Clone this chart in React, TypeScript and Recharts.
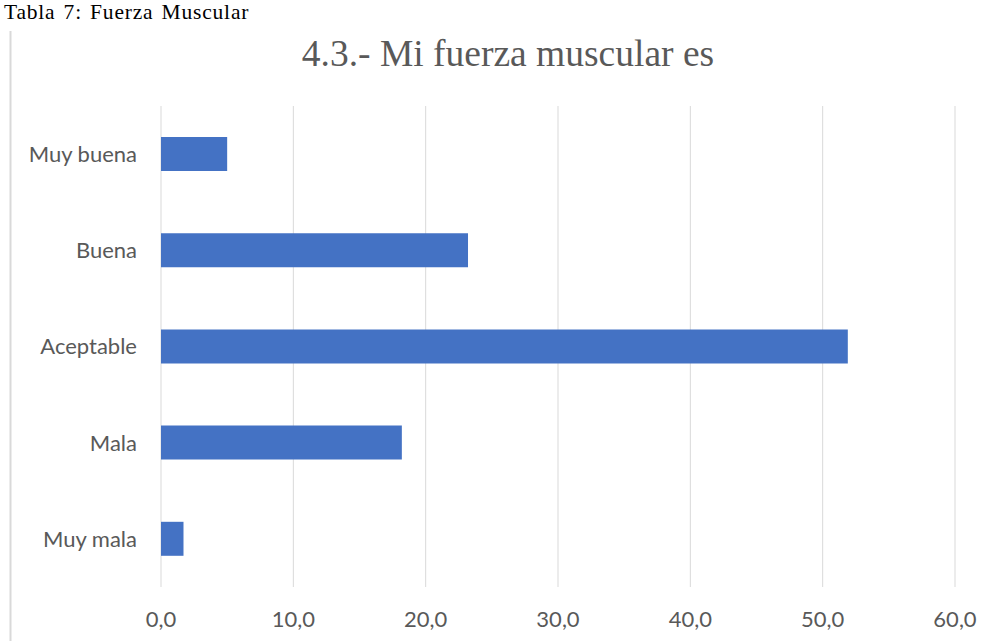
import React from "react";
import { BarChart, Bar, XAxis, YAxis, CartesianGrid } from "recharts";

const categories = ["Muy buena", "Buena", "Aceptable", "Mala", "Muy mala"];
const values = [5.0, 23.2, 51.9, 18.2, 1.7];
const xTicks = [0, 10, 20, 30, 40, 50, 60];

const data = categories.map((name, i) => ({ name, value: values[i] }));

const fmt = (v: number) => v.toFixed(1).replace(".", ",");

export default function App() {
  return (
    <div style={{ position: "absolute", left: 0, top: 0, width: 993, height: 641, background: "#fff", overflow: "hidden" }}>
      <svg width={993} height={641} style={{ position: "absolute", left: 0, top: 0 }}>
        <text x={4} y={19.3} fontFamily="'Liberation Serif', 'Times New Roman', serif" fontSize={21.5} fill="#000" letterSpacing={0.8} wordSpacing={2}>
          Tabla 7: Fuerza Muscular
        </text>
        <line x1={10.5} y1={31} x2={10.5} y2={641} stroke="#d9d9d9" strokeWidth={2} />
        <text x={508} y={66} textAnchor="middle" fontFamily="'Liberation Serif', 'Times New Roman', serif" fontSize={37.5} fill="#595959">
          4.3.- Mi fuerza muscular es
        </text>
      </svg>
      <div style={{ position: "absolute", left: 0, top: 0 }}>
        <BarChart
          width={993}
          height={641}
          data={data}
          layout="vertical"
          margin={{ top: 106, right: 38, bottom: 14, left: 11 }}
          barCategoryGap={0}
        >
          <CartesianGrid horizontal={false} vertical={true} stroke="#d9d9d9" strokeWidth={1} />
          <XAxis
            type="number"
            domain={[0, 60]}
            ticks={xTicks}
            tickFormatter={fmt}
            axisLine={false}
            tickLine={false}
            height={40}
            tickMargin={18}
            tick={{ fill: "#595959", fontSize: 22, fontFamily: "Lato, 'Liberation Sans', sans-serif" }}
            interval={0}
          />
          <YAxis
            type="category"
            dataKey="name"
            width={150}
            axisLine={false}
            tickLine={false}
            tickMargin={18}
            tick={{ fill: "#595959", fontSize: 22, fontFamily: "Lato, 'Liberation Sans', sans-serif" }}
            interval={0}
          />
          <Bar dataKey="value" fill="#4472C4" barSize={34} isAnimationActive={false} />
        </BarChart>
      </div>
    </div>
  );
}
